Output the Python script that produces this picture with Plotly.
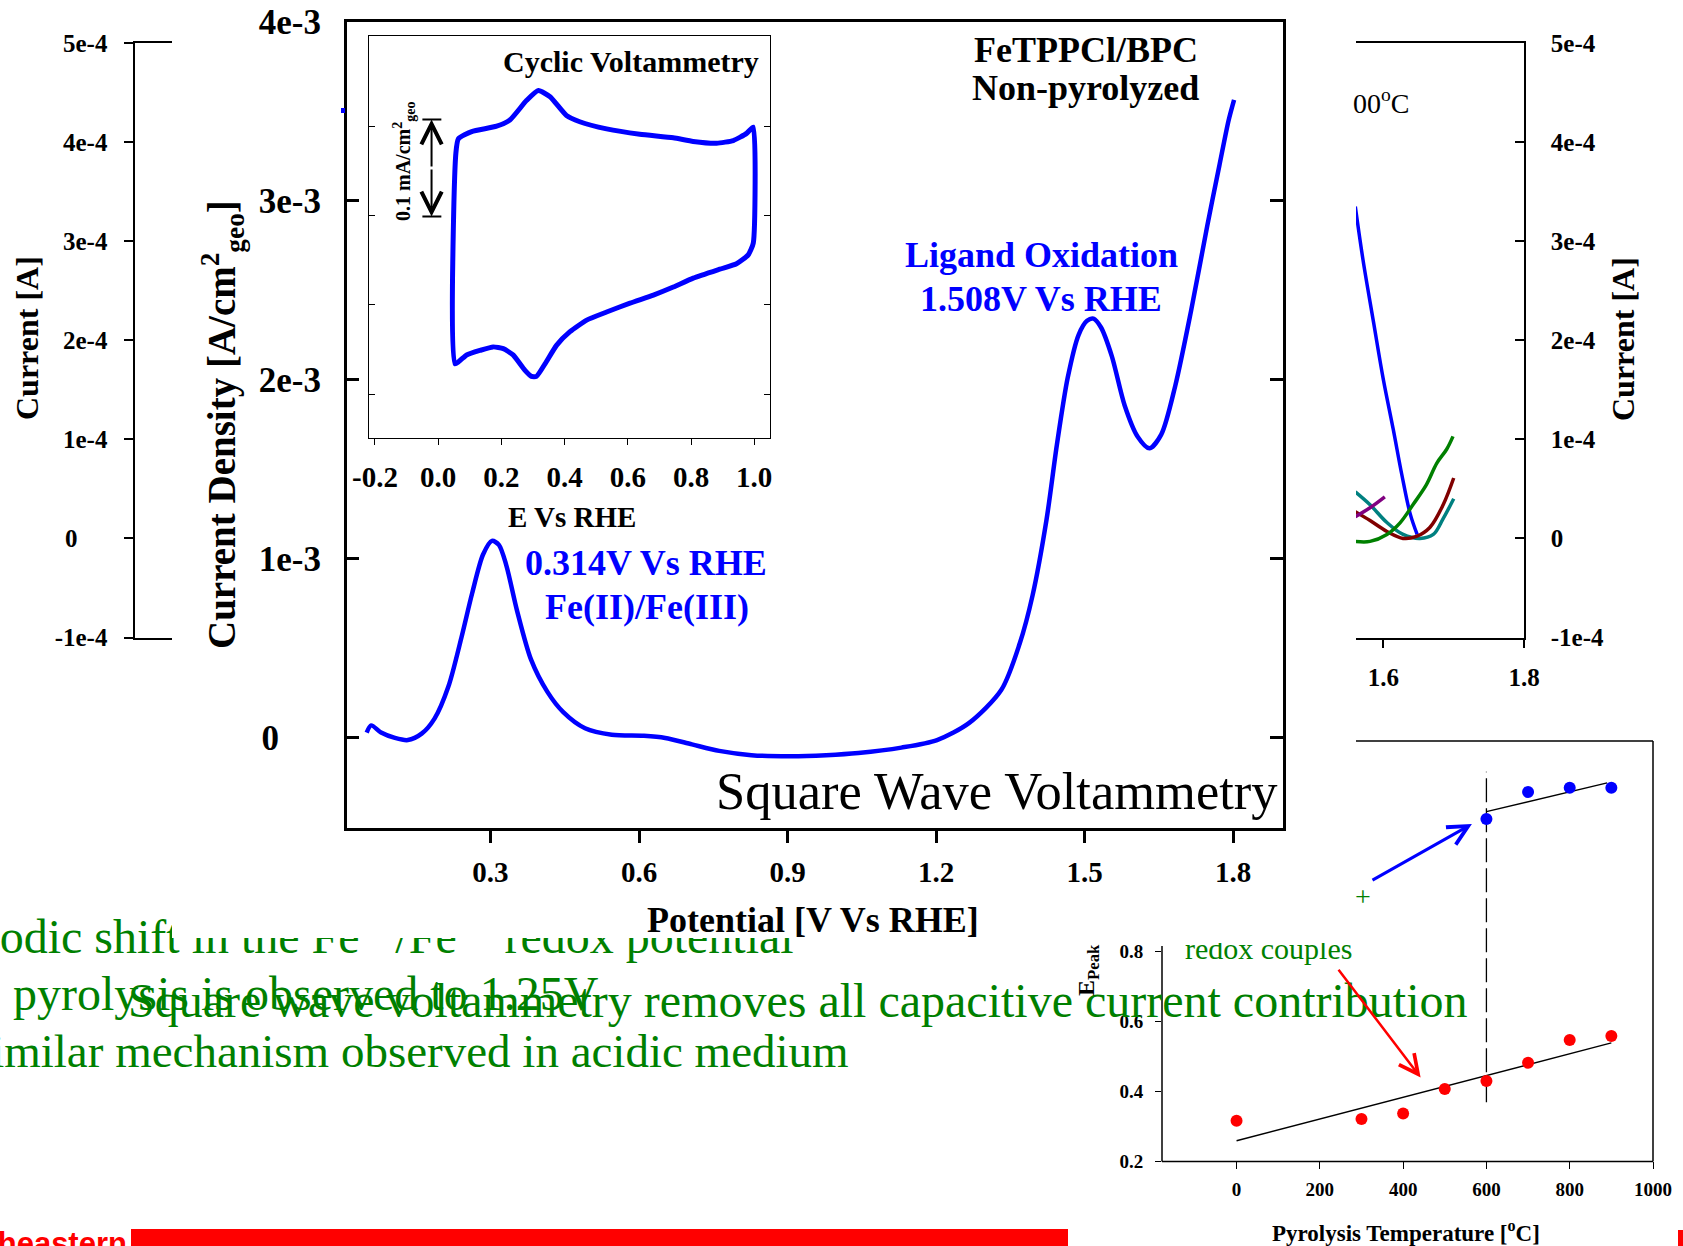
import numpy as np
import plotly.graph_objects as go

W, H = 1683, 1246
SERIF = "Liberation Serif"
SANS = "Liberation Sans"
BLUE = "#0000FF"
GREEN = "#008000"
RED = "#FF0000"
PAD0 = "\u2007\u2007\u2009"  # keeps the lone "0" tick label left-aligned like the others

# ---------------- Square wave voltammetry (main panel) ----------------
swv_potential = [0.050, 0.059, 0.079, 0.107, 0.133, 0.161, 0.187, 0.215, 0.241, 0.263,
                 0.285, 0.303, 0.317, 0.332, 0.354, 0.382, 0.415, 0.447, 0.491, 0.545,
                 0.610, 0.653, 0.707, 0.762, 0.827, 0.907, 0.978, 1.043, 1.130, 1.202,
                 1.267, 1.332, 1.369, 1.395, 1.423, 1.444, 1.466, 1.488, 1.505, 1.518,
                 1.533, 1.555, 1.581, 1.607, 1.631, 1.655, 1.683, 1.715, 1.748, 1.772,
                 1.791, 1.802]
swv_density_mA = [0.030, 0.070, 0.030, 0.000, -0.012, 0.024, 0.108, 0.287, 0.557, 0.808,
                  1.024, 1.100, 1.078, 0.964, 0.707, 0.437, 0.257, 0.144, 0.054, 0.018,
                  0.012, 0.000, -0.036, -0.072, -0.096, -0.102, -0.096, -0.084, -0.054, -0.012,
                  0.084, 0.269, 0.527, 0.796, 1.216, 1.635, 2.012, 2.251, 2.329, 2.341,
                  2.293, 2.132, 1.856, 1.683, 1.617, 1.695, 1.964, 2.383, 2.862, 3.192,
                  3.449, 3.563]
main_xticks = [0.3, 0.6, 0.9, 1.2, 1.5, 1.8]
main_xticklabels = ["0.3", "0.6", "0.9", "1.2", "1.5", "1.8"]
main_yticks = [0, 1e-3, 2e-3, 3e-3, 4e-3]
main_yticklabels = ["0" + PAD0, "1e-3", "2e-3", "3e-3", "4e-3"]

# ---------------- Cyclic voltammetry (inset) ----------------
cv_potential = [0.053, 0.056, 0.064, 0.106, 0.185, 0.227, 0.280, 0.317, 0.354, 0.406,
                0.448, 0.533, 0.638, 0.744, 0.807, 0.881, 0.934, 0.976, 0.997, 0.997,
                0.981, 0.944, 0.891, 0.807, 0.744, 0.681, 0.607, 0.533, 0.470, 0.417,
                0.375, 0.338, 0.311, 0.295, 0.274, 0.237, 0.206, 0.174, 0.132, 0.090,
                0.053]
cv_current = [-0.066, 0.170, 0.186, 0.194, 0.200, 0.207, 0.229, 0.240, 0.233, 0.212,
              0.205, 0.197, 0.191, 0.187, 0.183, 0.181, 0.184, 0.192, 0.199, 0.069,
              0.056, 0.046, 0.040, 0.030, 0.020, 0.011, 0.002, -0.008, -0.017, -0.030,
              -0.045, -0.066, -0.080, -0.080, -0.073, -0.056, -0.049, -0.047, -0.051, -0.056,
              -0.066]
cv_xticks = [-0.2, 0.0, 0.2, 0.4, 0.6, 0.8, 1.0]
cv_xticklabels = ["-0.2", "0.0", "0.2", "0.4", "0.6", "0.8", "1.0"]
cv_yticks = [-0.1, 0.0, 0.1, 0.2]
scalebar_E = -0.021
scalebar_low, scalebar_high = 0.099, 0.2075
scalebar_cap = [-0.050, 0.010]

# ---------------- Background current plot (partly hidden) ----------------
bg_yticks = [-1e-4, 0, 1e-4, 2e-4, 3e-4, 4e-4, 5e-4]
bg_left_yticklabels = ["-1e-4", "0" + PAD0, "1e-4", "2e-4", "3e-4", "4e-4", "5e-4"]
bg_right_yticklabels = ["-1e-4", "0", "1e-4", "2e-4", "3e-4", "4e-4", "5e-4"]
bg_xticks = [1.6, 1.8]
bg_xticklabels = ["1.6", "1.8"]
bg_blue_E = [1.560, 1.571, 1.586, 1.600, 1.614, 1.626, 1.638, 1.648]
bg_blue_I = [3.35, 2.81, 2.18, 1.60, 1.10, 0.65, 0.25, 0.04]
bg_green_E = [1.560, 1.581, 1.605, 1.624, 1.642, 1.661, 1.676, 1.690, 1.699]
bg_green_I = [-0.03, -0.03, 0.04, 0.16, 0.34, 0.54, 0.76, 0.90, 1.03]
bg_maroon_E = [1.560, 1.581, 1.605, 1.628, 1.647, 1.666, 1.685, 1.700]
bg_maroon_I = [0.27, 0.18, 0.07, 0.00, 0.02, 0.11, 0.34, 0.61]
bg_teal_E = [1.560, 1.581, 1.605, 1.628, 1.652, 1.671, 1.685, 1.700]
bg_teal_I = [0.47, 0.34, 0.16, 0.04, 0.00, 0.04, 0.20, 0.40]
bg_purple_E = [1.560, 1.581, 1.602]
bg_purple_I = [0.22, 0.31, 0.42]

# ---------------- Peak potential vs pyrolysis temperature ----------------
temp_fe = [0, 300, 400, 500, 600, 700, 800, 900]
epeak_fe = [0.315, 0.320, 0.336, 0.406, 0.429, 0.481, 0.546, 0.558]
temp_lig = [600, 700, 800, 900]
epeak_lig = [1.179, 1.256, 1.268, 1.268]
fit_fe_x, fit_fe_y = [0, 900], [0.258, 0.538]
fit_lig_x, fit_lig_y = [600, 890], [1.200, 1.282]
divider_x, divider_y = [600, 600], [0.368, 1.314]
ep_xticks = [0, 200, 400, 600, 800, 1000]
ep_yticks = [0.2, 0.4, 0.6, 0.8]


def fx(p):
    return p / W


def fy(p):
    return 1 - p / H


def tf(size, bold=True):
    return dict(family=SERIF, size=size, color="black", weight="bold" if bold else "normal")


fig = go.Figure()

# left background fragment (axis only)
fig.add_trace(go.Scatter(x=[0.5], y=[0.0], xaxis="x3", yaxis="y3", mode="markers",
                         marker=dict(opacity=0), hoverinfo="skip", showlegend=False))
# right background fragment
for E, I, c in [(bg_blue_E, bg_blue_I, "#0000FF"), (bg_teal_E, bg_teal_I, "#008080"),
                (bg_maroon_E, bg_maroon_I, "#800000"), (bg_green_E, bg_green_I, "#008000"),
                (bg_purple_E, bg_purple_I, "#800080")]:
    fig.add_trace(go.Scatter(x=E, y=np.array(I) * 1e-4, xaxis="x4", yaxis="y4", mode="lines",
                             line=dict(color=c, width=3.5, shape="spline"), showlegend=False))

# E peak plot
fig.add_trace(go.Scatter(x=divider_x, y=divider_y, xaxis="x5", yaxis="y5", mode="lines",
                         line=dict(color="black", width=1.3, dash="24px,6px"), showlegend=False))
fig.add_trace(go.Scatter(x=fit_fe_x, y=fit_fe_y, xaxis="x5", yaxis="y5", mode="lines",
                         line=dict(color="black", width=1.4), showlegend=False))
fig.add_trace(go.Scatter(x=fit_lig_x, y=fit_lig_y, xaxis="x5", yaxis="y5", mode="lines",
                         line=dict(color="black", width=1.4), showlegend=False))
fig.add_trace(go.Scatter(x=temp_fe, y=epeak_fe, xaxis="x5", yaxis="y5", mode="markers",
                         marker=dict(color=RED, size=12), showlegend=False))
fig.add_trace(go.Scatter(x=temp_lig, y=epeak_lig, xaxis="x5", yaxis="y5", mode="markers",
                         marker=dict(color=BLUE, size=12), showlegend=False))

# main SWV
fig.add_trace(go.Scatter(x=swv_potential, y=np.array(swv_density_mA) * 1e-3, xaxis="x", yaxis="y",
                         mode="lines", line=dict(color=BLUE, width=4.5, shape="spline", smoothing=0.8),
                         showlegend=False))
# inset CV
fig.add_trace(go.Scatter(x=cv_potential, y=cv_current, xaxis="x2", yaxis="y2", mode="lines",
                         line=dict(color=BLUE, width=5, shape="spline", smoothing=0.5),
                         showlegend=False))

base = dict(showgrid=False, zeroline=False, linecolor="black", tickcolor="black",
            automargin=False)

layout = dict(
    width=W, height=H, autosize=False,
    margin=dict(l=0, r=0, t=0, b=0, pad=0, autoexpand=False),
    paper_bgcolor="white", plot_bgcolor="rgba(0,0,0,0)",
    showlegend=False,
    xaxis=dict(base, domain=[fx(346.7), fx(1282.6)], anchor="y", range=[0.0096, 1.9],
               tickvals=main_xticks, ticktext=main_xticklabels, ticks="outside", ticklen=13,
               tickwidth=2.5, showline=True, linewidth=2.5, mirror=True,
               tickfont=tf(29), ticklabelstandoff=4),
    yaxis=dict(base, domain=[fy(827.5), fy(21.5)], anchor="x", range=[-0.0005, 0.004],
               tickvals=main_yticks, ticktext=main_yticklabels, ticks="inside", ticklen=13,
               tickwidth=2.5, showline=True, linewidth=2.5, mirror="ticks",
               tickfont=tf(35), ticklabelstandoff=16),
    xaxis2=dict(base, domain=[fx(369.3), fx(770)], anchor="y2", range=[-0.218, 1.05],
                tickvals=cv_xticks, ticktext=cv_xticklabels, ticks="outside", ticklen=6,
                tickwidth=1.2, showline=True, linewidth=1.2, mirror=True,
                tickfont=tf(29), ticklabelstandoff=7),
    yaxis2=dict(base, domain=[fy(438), fy(36)], anchor="x2", range=[-0.149, 0.301],
                tickvals=cv_yticks, ticks="inside", ticklen=6, tickwidth=1.2,
                showline=True, linewidth=1.2, mirror="ticks", showticklabels=False),
    xaxis3=dict(base, domain=[fx(135.2), fx(172)], anchor="y3", range=[0, 1],
                showline=True, linewidth=1.6, mirror=True, ticks="", showticklabels=False),
    yaxis3=dict(base, domain=[fy(637.5), fy(43)], anchor="x3", range=[-1e-4, 5e-4],
                tickvals=bg_yticks, ticktext=bg_left_yticklabels, ticks="outside", ticklen=9,
                tickwidth=1.6, showline=True, linewidth=1.6, tickfont=tf(25),
                ticklabelstandoff=12),
    xaxis4=dict(base, domain=[fx(1356), fx(1524)], anchor="y4", range=[1.561, 1.8],
                tickvals=bg_xticks, ticktext=bg_xticklabels, ticks="outside", ticklen=9,
                tickwidth=1.6, showline=True, linewidth=1.6, mirror=True,
                tickfont=tf(25), ticklabelstandoff=8),
    yaxis4=dict(base, domain=[fy(637.5), fy(43)], anchor="x4", side="right", range=[-1e-4, 5e-4],
                tickvals=bg_yticks, ticktext=bg_right_yticklabels, ticks="inside", ticklen=9,
                tickwidth=1.6, showline=True, linewidth=1.6, tickfont=tf(25),
                ticklabelstandoff=20),
    xaxis5=dict(base, domain=[fx(1162), fx(1653)], anchor="y5", range=[-179, 1000],
                tickvals=ep_xticks, ticks="outside", ticklen=7, tickwidth=1.4,
                showline=False, tickfont=tf(19), ticklabelstandoff=4),
    yaxis5=dict(base, domain=[fy(1161), fy(741)], anchor="x5", range=[0.2, 1.402],
                tickvals=ep_yticks, ticks="outside", ticklen=6, tickwidth=1.4,
                showline=False, tickfont=tf(19), ticklabelstandoff=8),
)

shapes = []


def pline(x0, y0, x1, y1, w=1.5, color="black"):
    shapes.append(dict(type="line", xref="paper", yref="paper", x0=fx(x0), y0=fy(y0),
                       x1=fx(x1), y1=fy(y1), line=dict(color=color, width=w)))


# frame of the partly covered E-peak plot
pline(1162, 946, 1162, 1161.5)
pline(1162, 1161.5, 1653, 1161.5)
pline(1653, 741, 1653, 1161.5)
pline(1356, 741, 1653, 741)
# scale bar caps in CV inset
for yv in (scalebar_low, scalebar_high):
    shapes.append(dict(type="line", xref="x2", yref="y2", x0=scalebar_cap[0], x1=scalebar_cap[1],
                       y0=yv, y1=yv, line=dict(color="black", width=2)))
# red banner pieces and stray blue mark
shapes.append(dict(type="rect", xref="paper", yref="paper", x0=fx(131), x1=fx(1068),
                   y0=fy(1246), y1=fy(1229), fillcolor=RED, line=dict(width=0)))
shapes.append(dict(type="rect", xref="paper", yref="paper", x0=fx(1678), x1=fx(1683),
                   y0=fy(1246), y1=fy(1230), fillcolor=RED, line=dict(width=0)))
shapes.append(dict(type="rect", xref="paper", yref="paper", x0=fx(341), x1=fx(345),
                   y0=fy(113), y1=fy(108), fillcolor=BLUE, line=dict(width=0)))
layout["shapes"] = shapes

annotations = []


def txt(text, x, y, size, color="black", bold=True, xanchor="center", angle=0, family=SERIF):
    annotations.append(dict(text=text, x=fx(x), y=fy(y), xref="paper", yref="paper",
                            xanchor=xanchor, yanchor="middle", showarrow=False, textangle=angle,
                            font=dict(family=family, size=size, color=color,
                                      weight="bold" if bold else "normal")))


def whitebox(x0, x1, y0, y1):
    annotations.append(dict(text=" ", x=fx((x0 + x1) / 2), y=fy((y0 + y1) / 2), xref="paper",
                            yref="paper", xanchor="center", yanchor="middle", showarrow=False,
                            width=x1 - x0, height=y1 - y0, bgcolor="white", borderpad=0,
                            borderwidth=0, font=dict(size=4)))


def arrow(x_head, y_head, x_tail, y_tail, color, width, size, head=5):
    annotations.append(dict(text="", x=fx(x_head), y=fy(y_head), xref="paper", yref="paper",
                            ax=x_tail - x_head, ay=y_tail - y_head, showarrow=True,
                            arrowhead=head, arrowsize=size, arrowwidth=width, arrowcolor=color,
                            standoff=0, startstandoff=0))


# background slide text (partly covered)
txt("Anodic shift in the Fe<sup>3+</sup>/Fe<sup>2+</sup> redox potential", -61, 933.5, 48,
    GREEN, bold=False, xanchor="left")
whitebox(172, 1000, 890, 937.5)
txt("redox couples", 1183, 948.5, 30, GREEN, bold=False, xanchor="left")
txt("+", 1362.7, 896.5, 28, GREEN, bold=False)
whitebox(1175, 1356, 925, 943)
txt("pyrolysis is observed to 1.25V", 11, 993.7, 48, GREEN, bold=False, xanchor="left")
txt("Similar mechanism observed in acidic medium", 851, 1050.7, 47, GREEN, bold=False,
    xanchor="right")
txt("Square wave voltammetry removes all capacitive current contribution", 126, 1000.7, 48,
    GREEN, bold=False, xanchor="left")

# background current plot labels
txt("Current [A]", 27, 338, 32, angle=-90)
txt("Current [A]", 1623, 339, 32, angle=-90)
txt("00<sup>o</sup>C", 1351, 101, 28, bold=False, xanchor="left")

# main panel labels
txt("FeTPPCl/BPC", 1085.6, 50, 36)
txt("Non-pyrolyzed", 1085.6, 88, 36)
txt("Cyclic Voltammetry", 630.6, 62, 30)
txt("Ligand Oxidation", 1041, 255, 36, BLUE)
txt("1.508V Vs RHE", 1041, 299, 36, BLUE)
txt("0.314V Vs RHE", 646, 563, 36, BLUE)
txt("Fe(II)/Fe(III)", 646.5, 607, 36, BLUE)
txt("Square Wave Voltammetry", 1280, 791, 52.5, bold=False, xanchor="right")
txt("E Vs RHE", 572, 517, 29)
txt("Potential [V Vs RHE]", 813, 920, 36)
txt("Current Density [A/cm<sup>2</sup><sub>geo</sub>]", 222, 424, 39, angle=-90)
txt("0.1 mA/cm<sup>2</sup><sub>geo</sub>", 404, 162, 20, angle=-90)

# E peak plot labels
txt("Pyrolysis Temperature [<sup>o</sup>C]", 1406, 1231, 23)
txt("E<sub>Peak</sub>", 1088, 970, 24, angle=-90)

# arrows
arrow(1471.9, 824, 1371, 881, BLUE, 3, 1.3)
arrow(1420.6, 1077.4, 1337.4, 968.3, RED, 2.5, 1.5)
for yv in (scalebar_high, scalebar_low):
    annotations.append(dict(text="", x=scalebar_E, y=yv, xref="x2", yref="y2",
                            ax=scalebar_E, ay=(scalebar_low + scalebar_high) / 2,
                            axref="x2", ayref="y2", showarrow=True, arrowhead=5,
                            arrowsize=2.0, arrowwidth=2, arrowcolor="black", standoff=0))

# red logo text at the bottom edge
txt("Northeastern", 129, 1243, 31, RED, bold=True, xanchor="right", family=SANS)

layout["annotations"] = annotations
fig.update_layout(layout)

fig.write_html("out.html", config={"displayModeBar": False},
               post_script="document.body.style.margin='0';document.body.style.overflow='hidden';")
